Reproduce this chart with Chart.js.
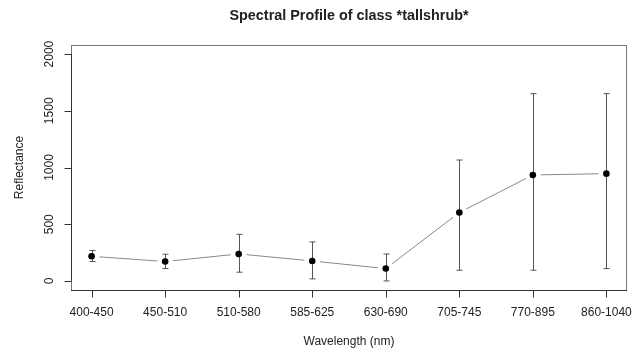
<!DOCTYPE html>
<html>
<head>
<meta charset="utf-8">
<script src="https://cdn.jsdelivr.net/npm/chart.js@4/dist/chart.umd.min.js"></script>
<style>
  html, body { margin: 0; padding: 0; background: #fff; }
  #wrap { width: 644px; height: 356px; }
</style>
</head>
<body>
<div id="wrap"><canvas id="c" width="644" height="356"></canvas></div>
<script>
// Spectral bands (nm) and reflectance summary for the class
const bands = ['400-450', '450-510', '510-580', '585-625', '630-690', '705-745', '770-895', '860-1040'];
const meanRefl  = [217, 171, 238, 176, 109, 603, 934, 946];
const lowerRefl = [171, 109, 77, 18, 0, 94, 94, 109];
const upperRefl = [268, 235, 411, 344, 237, 1066, 1651, 1651];
const yTicks = [0, 500, 1000, 1500, 2000];

const titleText = 'Spectral Profile of class *tallshrub*';
const xTitle = 'Wavelength (nm)';
const yTitle = 'Reflectance';

const FONT = '"Liberation Sans", Arial, Helvetica, sans-serif';
const pts = meanRefl.map((v, i) => ({ x: i + 1, y: v }));

// Frame, axes, tick labels, titles and error bars
const basePlotPlugin = {
  id: 'basePlot',
  afterDatasetDraw(chart, args) {
    // error bars go above the white halo but below the black markers
    if (args.index !== 1) return;
    const ctx = chart.ctx, xs = chart.scales.x, ys = chart.scales.y;
    ctx.save();
    ctx.strokeStyle = '#555';
    ctx.lineWidth = 1;
    ctx.beginPath();
    meanRefl.forEach((v, i) => {
      const px = Math.round(xs.getPixelForValue(i + 1)) + 0.5;
      const top = ys.getPixelForValue(upperRefl[i]);
      const bot = ys.getPixelForValue(lowerRefl[i]);
      ctx.moveTo(px, top); ctx.lineTo(px, bot);
      ctx.moveTo(px - 3, top); ctx.lineTo(px + 3, top);
      ctx.moveTo(px - 3, bot); ctx.lineTo(px + 3, bot);
    });
    ctx.stroke();
    ctx.restore();
  },
  afterDraw(chart) {
    const ctx = chart.ctx, ca = chart.chartArea;
    const xs = chart.scales.x, ys = chart.scales.y;
    ctx.save();
    // plot frame
    ctx.strokeStyle = '#777';
    ctx.lineWidth = 1;
    ctx.strokeRect(ca.left + 0.5, ca.top + 0.5, ca.right - ca.left - 1, ca.bottom - ca.top);

    ctx.strokeStyle = '#333';
    // y axis
    const yx = ca.left + 0.5;
    ctx.beginPath();
    ctx.moveTo(yx, ys.getPixelForValue(yTicks[0]));
    ctx.lineTo(yx, ys.getPixelForValue(yTicks[yTicks.length - 1]));
    yTicks.forEach(t => {
      const py = Math.round(ys.getPixelForValue(t)) + 0.5;
      ctx.moveTo(yx - 7, py); ctx.lineTo(yx, py);
    });
    // x axis
    const xy = ca.bottom + 0.5;
    ctx.moveTo(ca.left, xy); ctx.lineTo(ca.right, xy);
    bands.forEach((b, i) => {
      const px = Math.round(xs.getPixelForValue(i + 1)) + 0.5;
      ctx.moveTo(px, xy); ctx.lineTo(px, xy + 7);
    });
    ctx.stroke();

    ctx.fillStyle = '#222';
    ctx.font = '12px ' + FONT;
    ctx.textAlign = 'center';
    ctx.textBaseline = 'middle';
    bands.forEach((b, i) => {
      ctx.fillText(b, xs.getPixelForValue(i + 1), 313);
    });
    yTicks.forEach(t => {
      ctx.save();
      ctx.translate(50, ys.getPixelForValue(t));
      ctx.rotate(-Math.PI / 2);
      ctx.fillText(String(t), 0, 0);
      ctx.restore();
    });
    ctx.fillText(xTitle, (ca.left + ca.right) / 2, 342);
    ctx.save();
    ctx.translate(20, (ca.top + ca.bottom) / 2);
    ctx.rotate(-Math.PI / 2);
    ctx.fillText(yTitle, 0, 0);
    ctx.restore();

    ctx.font = 'bold 14.4px ' + FONT;
    ctx.fillText(titleText, (ca.left + ca.right) / 2, 16);
    ctx.restore();
  }
};

new Chart(document.getElementById('c'), {
  type: 'scatter',
  data: {
    datasets: [
      // black markers
      { data: pts, showLine: false, pointRadius: 3.3, pointBackgroundColor: '#000',
        pointBorderColor: '#000', pointBorderWidth: 0, order: 1 },
      // white halo that opens a gap in the connecting line
      { data: pts, showLine: false, pointRadius: 8, pointBackgroundColor: '#fff',
        pointBorderColor: '#fff', pointBorderWidth: 0, order: 2 },
      // connecting line
      { data: pts, showLine: true, borderColor: '#888', borderWidth: 1, pointRadius: 0,
        tension: 0, order: 3 }
    ]
  },
  options: {
    responsive: false,
    animation: false,
    devicePixelRatio: 1,
    layout: { padding: { left: 71, top: 45, right: 17, bottom: 66 } },
    scales: {
      x: { type: 'linear', min: 0.72, max: 8.28, display: false },
      y: { type: 'linear', min: -80, max: 2080, display: false }
    },
    plugins: {
      legend: { display: false },
      tooltip: { enabled: false },
      title: { display: false }
    },
    events: []
  },
  plugins: [basePlotPlugin]
});
</script>
</body>
</html>
